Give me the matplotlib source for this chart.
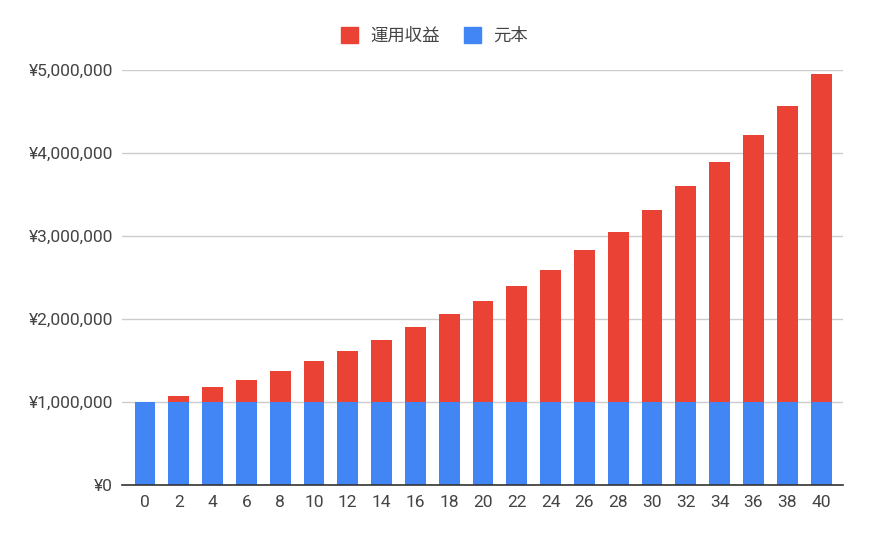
import matplotlib
matplotlib.use("Agg")
import matplotlib.pyplot as plt
import matplotlib.patches as mpatches
from matplotlib.ticker import FuncFormatter
import numpy as np

plt.rcParams['font.family'] = ['Roboto', 'Noto Sans CJK JP', 'DejaVu Sans']

# データ
years = [0, 2, 4, 6, 8, 10, 12, 14, 16, 18, 20,
         22, 24, 26, 28, 30, 32, 34, 36, 38, 40]
principal = [1_000_000] * len(years)
total = [1_000_000, 1_073_000, 1_178_000, 1_267_000, 1_372_000, 1_494_000,
         1_619_000, 1_745_000, 1_898_000, 2_056_000, 2_214_000,
         2_402_000, 2_596_000, 2_826_000, 3_052_000, 3_315_000,
         3_597_000, 3_896_000, 4_211_000, 4_562_000, 4_949_000]
gain = [t - p for t, p in zip(total, principal)]

LABEL_GAIN = "運用収益"
LABEL_PRINCIPAL = "元本"
RED = "#EA4335"
BLUE = "#4285F4"
TEXT = "#444444"

fig = plt.figure(figsize=(8.7, 5.37), dpi=100)
ax = fig.add_axes([122 / 870, 1 - 485 / 537, (843 - 122) / 870, (485 - 70) / 537])

x = np.arange(len(years))
ax.bar(x, principal, width=0.62, color=BLUE, zorder=3)
ax.bar(x, gain, bottom=principal, width=0.62, color=RED, zorder=3)

ax.set_xlim(-0.68, len(years) - 1 + 0.65)
ax.set_ylim(0, 5_000_000)
ax.set_yticks(np.arange(0, 5_000_001, 1_000_000))
ax.yaxis.set_major_formatter(FuncFormatter(lambda v, _: f"¥{v:,.0f}"))
ax.set_xticks(x)
ax.set_xticklabels([str(y) for y in years])

ax.grid(axis="y", color="#cccccc", linewidth=1, zorder=0)
for s in ["top", "right", "left"]:
    ax.spines[s].set_visible(False)
ax.spines["bottom"].set_color("#333333")
ax.spines["bottom"].set_linewidth(1.2)
ax.spines["bottom"].set_zorder(4)

ax.tick_params(axis="both", length=0, labelsize=12.5, colors=TEXT)
ax.tick_params(axis="y", pad=6.5)
ax.tick_params(axis="x", pad=7)

handles = [mpatches.Patch(color=RED, label=LABEL_GAIN),
           mpatches.Patch(color=BLUE, label=LABEL_PRINCIPAL)]
leg = fig.legend(handles=handles, loc="center", bbox_to_anchor=(0.4994, 1 - 35.5 / 537),
                 ncol=2, frameon=False, fontsize=12.5, handlelength=1.0, handleheight=1.0,
                 handletextpad=0.7, columnspacing=1.4)
for t in leg.get_texts():
    t.set_color(TEXT)

fig.savefig("out.png", dpi=100)
